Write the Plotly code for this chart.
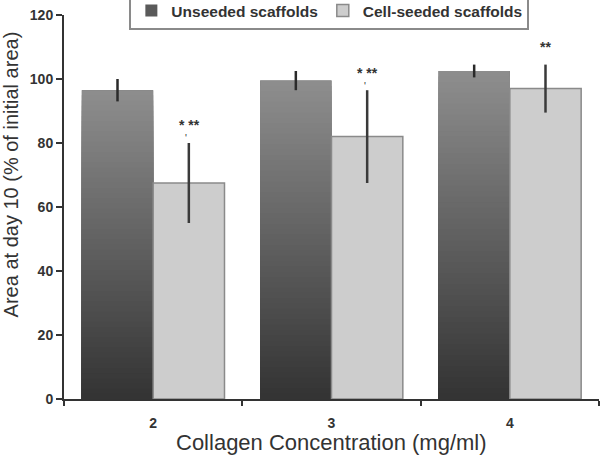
import plotly.graph_objects as go

# ---- data ----
concentrations = ["2", "3", "4"]
unseeded = [96.5, 99.5, 102.5]
unseeded_err = [3.5, 3.0, 2.0]
seeded = [67.5, 82.0, 97.0]
seeded_err = [12.5, 14.5, 7.5]
significance = ["* **", "* **", "**"]
has_mark = [True, True, False]
y_ticks = [0, 20, 40, 60, 80, 100, 120]

FONT = "Arial, 'Liberation Sans', sans-serif"
TXT = "#333333"
BAR_W = 0.4
N_LAYERS = 60


def grey(f):
    v = round(51 + (142 - 51) * f)
    return f"rgb({v},{v},{v})"


fig = go.Figure()

# legend entry / base of unseeded bars
fig.add_trace(go.Bar(
    name="Unseeded scaffolds", x=concentrations, y=unseeded,
    width=BAR_W, offset=-BAR_W,
    marker=dict(color="#5a5a5a", line=dict(width=0)),
    hoverinfo="skip",
))

# vertical gradient for the unseeded bars (layers from data values)
gx, gy, gc = [], [], []
for k in range(N_LAYERS):
    frac = (N_LAYERS - k) / N_LAYERS
    for c, v in zip(concentrations, unseeded):
        gx.append(c)
        gy.append(v * frac)
        gc.append(grey(frac - 0.5 / N_LAYERS))
fig.add_trace(go.Bar(
    x=gx, y=gy, width=BAR_W, offset=-BAR_W,
    marker=dict(color=gc, line=dict(width=0)),
    showlegend=False, hoverinfo="skip",
))

# error bars for unseeded
fig.add_trace(go.Bar(
    x=concentrations, y=unseeded, width=BAR_W, offset=-BAR_W,
    marker=dict(color="rgba(0,0,0,0)", line=dict(width=0)),
    error_y=dict(type="data", array=unseeded_err, color="#2a2a2a",
                 thickness=2.5, width=0),
    showlegend=False,
))

# cell-seeded bars
fig.add_trace(go.Bar(
    name="Cell-seeded scaffolds", x=concentrations, y=seeded,
    width=BAR_W, offset=0,
    marker=dict(color="#cdcdcd", line=dict(color="#8a8a8a", width=1.5)),
    error_y=dict(type="data", array=seeded_err, color="#3a3a3a",
                 thickness=2.5, width=0),
))

annotations = []
for i, (v, e, s, m) in enumerate(zip(seeded, seeded_err, significance, has_mark)):
    annotations.append(dict(
        x=i, y=v + e + 5.5, xref="x", yref="y", text=s, showarrow=False,
        xshift=36, font=dict(family=FONT, size=14, color=TXT, weight="bold"),
    ))
    if m:
        annotations.append(dict(
            x=i, y=v + e + 1.3, xref="x", yref="y", text="'", showarrow=False,
            xshift=33, font=dict(family=FONT, size=10, color=TXT),
        ))

annotations.append(dict(
    x=-0.099, y=0.585, xref="paper", yref="paper",
    text="Area at day 10 (% of initial area)", textangle=-90,
    showarrow=False, xanchor="center", yanchor="middle",
    font=dict(family=FONT, size=20, color=TXT),
))
annotations.append(dict(
    x=0.5, y=-0.112, xref="paper", yref="paper",
    text="Collagen Concentration (mg/ml)",
    showarrow=False, xanchor="center", yanchor="middle",
    font=dict(family=FONT, size=22, color=TXT),
))

fig.update_layout(
    width=600, height=455,
    margin=dict(l=64, r=1, t=15, b=56, autoexpand=False),
    barmode="overlay",
    plot_bgcolor="white", paper_bgcolor="white",
    font=dict(family=FONT, color=TXT),
    showlegend=True,
    legend=dict(
        orientation="h", x=0.496, xanchor="center", y=0.961, yanchor="bottom",
        bordercolor="#8a8a8a", borderwidth=2, bgcolor="white",
        font=dict(family=FONT, size=15.5, color=TXT, weight="bold"),
        itemwidth=30, tracegroupgap=0,
    ),
    annotations=annotations,
    xaxis=dict(
        type="category", range=[-0.5, 2.5],
        showline=True, linecolor="#333333", linewidth=2,
        ticks="outside", tickson="boundaries", ticklen=5, tickwidth=2,
        tickcolor="#333333", showgrid=False, zeroline=False,
        tickfont=dict(family=FONT, size=14, color=TXT, weight="bold"),
        ticklabelstandoff=10, automargin=False,
    ),
    yaxis=dict(
        range=[0, 120], tickvals=y_ticks,
        showline=True, linecolor="#333333", linewidth=2,
        ticks="outside", ticklen=6, tickwidth=2, tickcolor="#333333",
        showgrid=False, zeroline=False, automargin=False,
        tickfont=dict(family=FONT, size=14, color=TXT, weight="bold"),
    ),
)

fig.write_html(
    "out.html",
    config={"displayModeBar": False},
    post_script="document.body.style.margin='0';document.body.style.overflow='hidden';",
)
